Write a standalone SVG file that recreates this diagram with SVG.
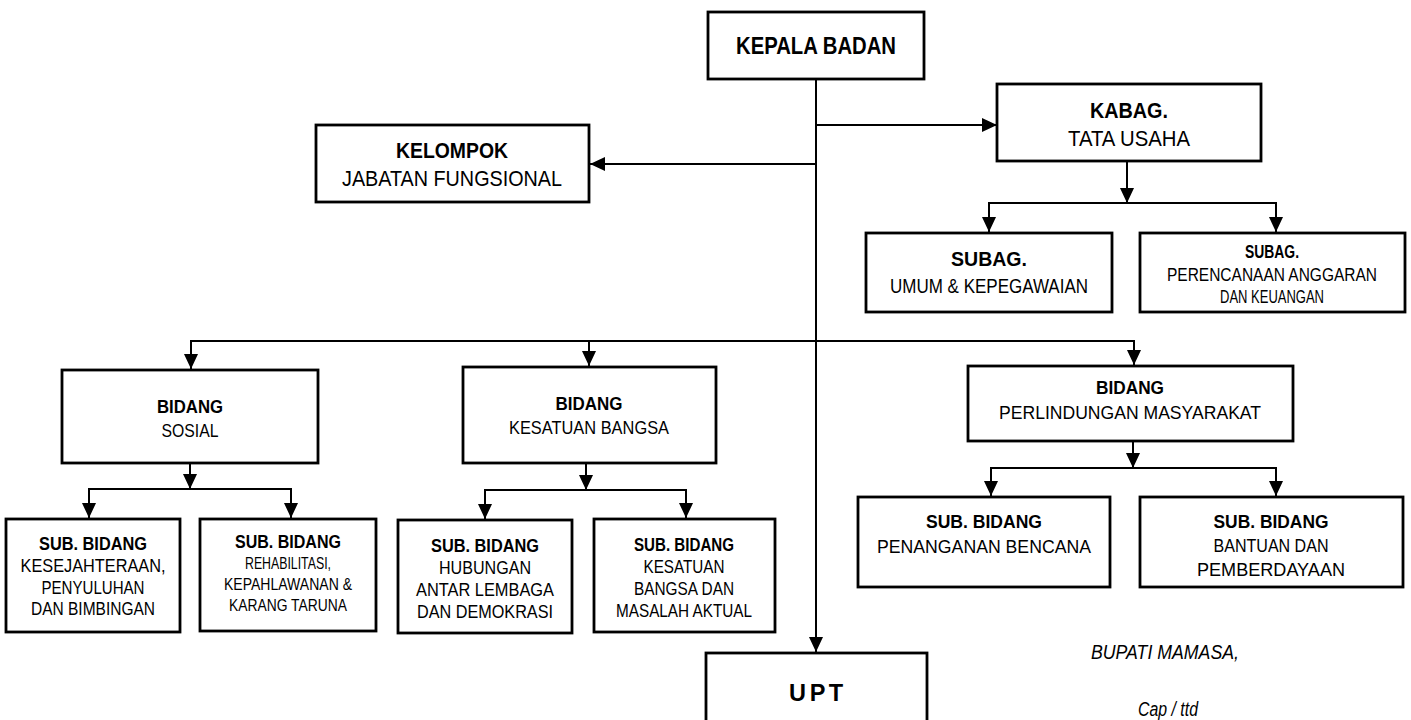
<svg xmlns="http://www.w3.org/2000/svg" width="1411" height="720" viewBox="0 0 1411 720">
<defs>
<marker id="ah" viewBox="0 0 15 14" refX="15" refY="7" markerWidth="15" markerHeight="14" markerUnits="userSpaceOnUse" orient="auto">
<path d="M0,0 L15,7 L0,14 z" fill="#000"/>
</marker>
</defs>
<style>
.box{fill:#fff;stroke:#000;stroke-width:2.8}
.ln{fill:none;stroke:#000;stroke-width:2}
.ar{fill:none;stroke:#000;stroke-width:2;marker-end:url(#ah)}
text{font-family:"Liberation Sans",Arial,sans-serif;fill:#000;text-anchor:middle}
.b{font-weight:bold}
.t23{font-size:23.5px}
.t22{font-size:22.5px}
.t21{font-size:22px}
.t20{font-size:21px}
.t18{font-size:19px}
.t17{font-size:18px}
.t16{font-size:17.5px}
.t15{font-size:16.5px}
.it{font-style:italic;font-size:19.5px}
</style>
<rect width="1411" height="720" fill="#fff"/>
<g id="connectors">
<line class="ar" x1="816" y1="79" x2="816" y2="652"/>
<line class="ar" x1="816" y1="125" x2="997" y2="125"/>
<line class="ar" x1="816" y1="164" x2="590" y2="164"/>
<line class="ar" x1="1127" y1="161" x2="1127" y2="203"/>
<line class="ln" x1="988" y1="203" x2="1277" y2="203"/>
<line class="ar" x1="989" y1="203" x2="989" y2="232"/>
<line class="ar" x1="1276" y1="203" x2="1276" y2="232"/>
<line class="ln" x1="190" y1="341" x2="1135" y2="341"/>
<line class="ar" x1="191" y1="341" x2="191" y2="369"/>
<line class="ar" x1="589" y1="341" x2="589" y2="366"/>
<line class="ar" x1="1134" y1="341" x2="1134" y2="365"/>
<line class="ar" x1="190" y1="463" x2="190" y2="489"/>
<line class="ln" x1="88" y1="489" x2="292" y2="489"/>
<line class="ar" x1="89" y1="489" x2="89" y2="518"/>
<line class="ar" x1="291" y1="489" x2="291" y2="518"/>
<line class="ar" x1="586" y1="463" x2="586" y2="490"/>
<line class="ln" x1="484" y1="490" x2="687" y2="490"/>
<line class="ar" x1="485" y1="490" x2="485" y2="519"/>
<line class="ar" x1="686" y1="490" x2="686" y2="518"/>
<line class="ar" x1="1133" y1="441" x2="1133" y2="468"/>
<line class="ln" x1="990" y1="468" x2="1277" y2="468"/>
<line class="ar" x1="991" y1="468" x2="991" y2="496"/>
<line class="ar" x1="1276" y1="468" x2="1276" y2="496"/>
</g>
<g id="kepala">
<rect class="box" x="708" y="12" width="216" height="67"/>
<text class="b t23" x="816" y="54" textLength="160" lengthAdjust="spacingAndGlyphs">KEPALA  BADAN</text>
</g>
<g id="kelompok">
<rect class="box" x="316" y="125" width="273" height="77"/>
<text class="b t21" x="452" y="158" textLength="112" lengthAdjust="spacingAndGlyphs">KELOMPOK</text>
<text class="t21" x="452" y="186" textLength="220" lengthAdjust="spacingAndGlyphs">JABATAN FUNGSIONAL</text>
</g>
<g id="tatausaha">
<rect class="box" x="997" y="84" width="264" height="77"/>
<text class="b t22" x="1129" y="118" textLength="78" lengthAdjust="spacingAndGlyphs">KABAG.</text>
<text class="t22" x="1129" y="146" textLength="122" lengthAdjust="spacingAndGlyphs">TATA USAHA</text>
</g>
<g id="subag-umum">
<rect class="box" x="866" y="233" width="246" height="79"/>
<text class="b t20" x="989" y="266" textLength="76" lengthAdjust="spacingAndGlyphs">SUBAG.</text>
<text class="t20" x="989" y="293" textLength="198" lengthAdjust="spacingAndGlyphs">UMUM &amp; KEPEGAWAIAN</text>
</g>
<g id="subag-perencanaan">
<rect class="box" x="1140" y="233" width="265" height="79"/>
<text class="b t17" x="1272" y="258" textLength="54" lengthAdjust="spacingAndGlyphs">SUBAG.</text>
<text class="t17" x="1272" y="281" textLength="210" lengthAdjust="spacingAndGlyphs">PERENCANAAN ANGGARAN</text>
<text class="t17" x="1272" y="303" textLength="104" lengthAdjust="spacingAndGlyphs">DAN KEUANGAN</text>
</g>
<g id="bidang-sosial">
<rect class="box" x="62" y="370" width="256" height="93"/>
<text class="b t18" x="190" y="413" textLength="66" lengthAdjust="spacingAndGlyphs">BIDANG</text>
<text class="t18" x="190" y="437" textLength="57" lengthAdjust="spacingAndGlyphs">SOSIAL</text>
</g>
<g id="bidang-kesatuan">
<rect class="box" x="463" y="367" width="253" height="96"/>
<text class="b t18" x="589" y="410" textLength="67" lengthAdjust="spacingAndGlyphs">BIDANG</text>
<text class="t18" x="589" y="434" textLength="160" lengthAdjust="spacingAndGlyphs">KESATUAN BANGSA</text>
</g>
<g id="bidang-perlindungan">
<rect class="box" x="968" y="366" width="325" height="75"/>
<text class="b t18" x="1130" y="394" textLength="68" lengthAdjust="spacingAndGlyphs">BIDANG</text>
<text class="t18" x="1130" y="419" textLength="262" lengthAdjust="spacingAndGlyphs">PERLINDUNGAN MASYARAKAT</text>
</g>
<g id="sub-kesejahteraan">
<rect class="box" x="6" y="519" width="174" height="113"/>
<text class="b t17" x="93" y="550" textLength="108" lengthAdjust="spacingAndGlyphs">SUB. BIDANG</text>
<text class="t16" x="93" y="572" textLength="145" lengthAdjust="spacingAndGlyphs">KESEJAHTERAAN,</text>
<text class="t16" x="93" y="594" textLength="103" lengthAdjust="spacingAndGlyphs">PENYULUHAN</text>
<text class="t16" x="93" y="615" textLength="124" lengthAdjust="spacingAndGlyphs">DAN BIMBINGAN</text>
</g>
<g id="sub-rehabilitasi">
<rect class="box" x="200" y="519" width="176" height="112"/>
<text class="b t16" x="288" y="548" textLength="106" lengthAdjust="spacingAndGlyphs">SUB. BIDANG</text>
<text class="t15" x="288" y="569" textLength="86" lengthAdjust="spacingAndGlyphs">REHABILITASI,</text>
<text class="t15" x="288" y="590" textLength="128" lengthAdjust="spacingAndGlyphs">KEPAHLAWANAN &amp;</text>
<text class="t15" x="288" y="611" textLength="118" lengthAdjust="spacingAndGlyphs">KARANG TARUNA</text>
</g>
<g id="sub-hubungan">
<rect class="box" x="398" y="520" width="174" height="113"/>
<text class="b t17" x="485" y="552" textLength="108" lengthAdjust="spacingAndGlyphs">SUB. BIDANG</text>
<text class="t17" x="485" y="574" textLength="92" lengthAdjust="spacingAndGlyphs">HUBUNGAN</text>
<text class="t17" x="485" y="596" textLength="138" lengthAdjust="spacingAndGlyphs">ANTAR LEMBAGA</text>
<text class="t17" x="485" y="618" textLength="136" lengthAdjust="spacingAndGlyphs">DAN DEMOKRASI</text>
</g>
<g id="sub-kesatuan">
<rect class="box" x="594" y="519" width="181" height="113"/>
<text class="b t16" x="684" y="551" textLength="100" lengthAdjust="spacingAndGlyphs">SUB. BIDANG</text>
<text class="t16" x="684" y="573" textLength="81" lengthAdjust="spacingAndGlyphs">KESATUAN</text>
<text class="t16" x="684" y="595" textLength="100" lengthAdjust="spacingAndGlyphs">BANGSA DAN</text>
<text class="t16" x="684" y="617" textLength="136" lengthAdjust="spacingAndGlyphs">MASALAH AKTUAL</text>
</g>
<g id="sub-penanganan">
<rect class="box" x="858" y="497" width="252" height="90"/>
<text class="b t18" x="984" y="528" textLength="116" lengthAdjust="spacingAndGlyphs">SUB. BIDANG</text>
<text class="t18" x="984" y="553" textLength="214" lengthAdjust="spacingAndGlyphs">PENANGANAN BENCANA</text>
</g>
<g id="sub-bantuan">
<rect class="box" x="1140" y="497" width="263" height="90"/>
<text class="b t18" x="1271" y="528" textLength="115" lengthAdjust="spacingAndGlyphs">SUB. BIDANG</text>
<text class="t18" x="1271" y="552" textLength="115" lengthAdjust="spacingAndGlyphs">BANTUAN DAN</text>
<text class="t18" x="1271" y="576" textLength="148" lengthAdjust="spacingAndGlyphs">PEMBERDAYAAN</text>
</g>
<g id="upt">
<rect class="box" x="706" y="653" width="221" height="80"/>
<text class="b t23" x="816" y="701" textLength="54" lengthAdjust="spacing">U P T</text>
</g>
<g id="signature">
<text class="it" x="1165" y="659" textLength="148" lengthAdjust="spacingAndGlyphs">BUPATI MAMASA,</text>
<text class="it" x="1168" y="716" textLength="60" lengthAdjust="spacingAndGlyphs">Cap / ttd</text>
</g>
</svg>
